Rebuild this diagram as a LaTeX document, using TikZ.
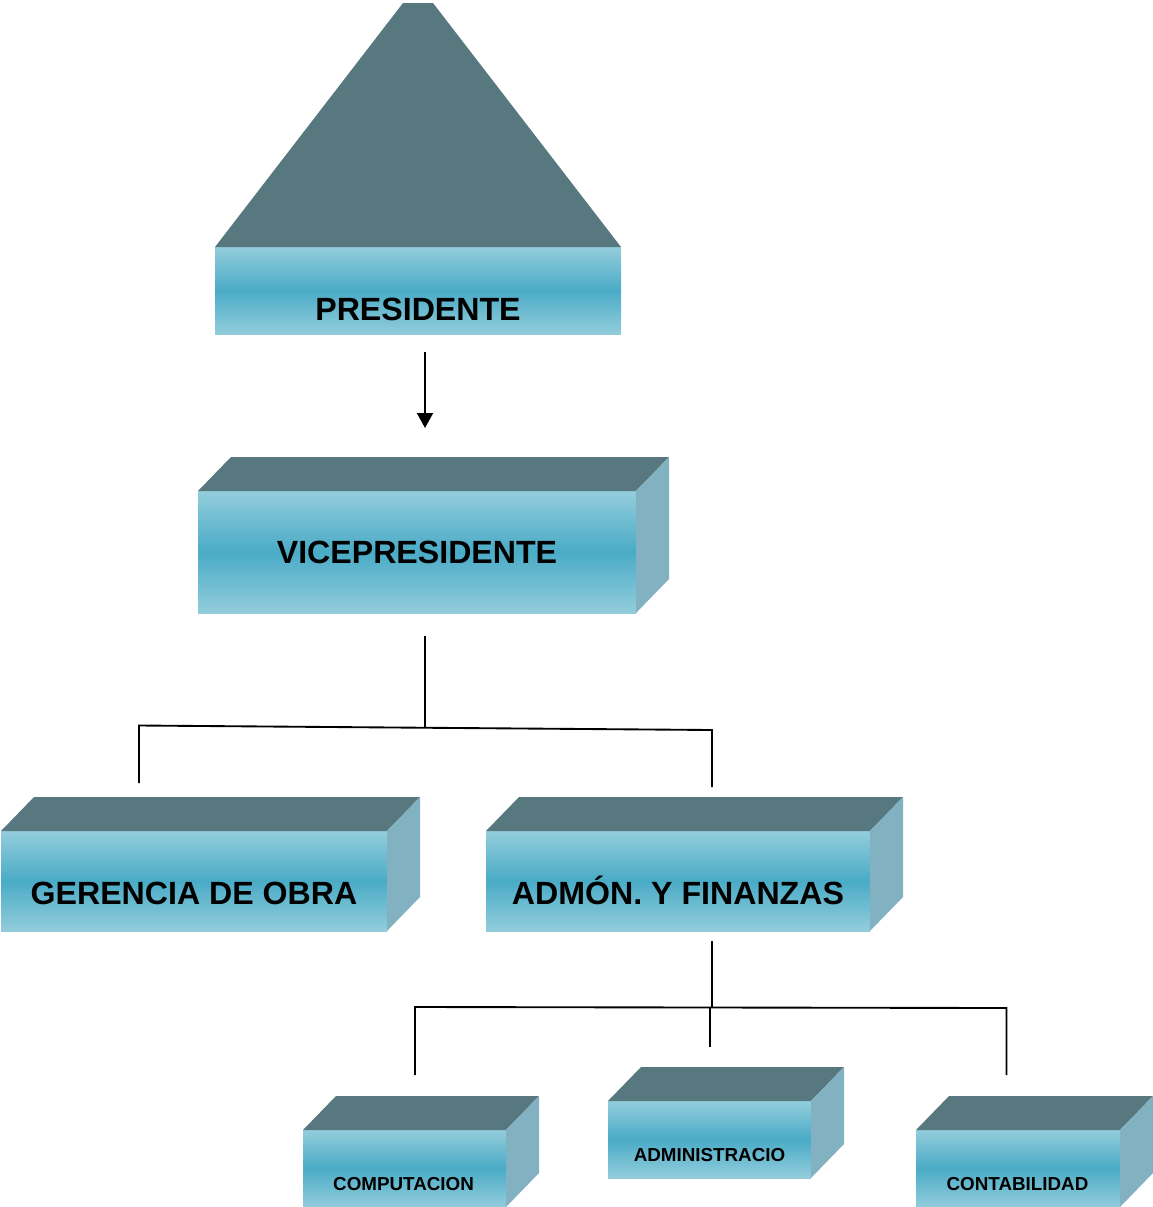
\documentclass[tikz,border=0pt]{standalone}
\usepackage{fontspec}
\setmainfont{Liberation Sans}
\usetikzlibrary{calc,arrows.meta}
\definecolor{topc}{RGB}{88,120,128}
\definecolor{sidec}{RGB}{130,178,194}
\definecolor{fl}{RGB}{147,205,220}
\definecolor{fd}{RGB}{74,171,198}
\tikzset{
 front/.style={rectangle, inner sep=0pt, outer sep=0pt, top color=fl, bottom color=fl, middle color=fd},
 topface/.style={fill=topc},
 sideface/.style={fill=sidec},
 bigtxt/.style={anchor=base, inner sep=0pt, font=\fontsize{24.1}{28}\selectfont\bfseries},
 smalltxt/.style={anchor=base, inner sep=0pt, font=\fontsize{14.1}{16}\selectfont\bfseries},
 link/.style={line width=1.4pt, draw=black},
 arr/.style={link, -{Triangle[length=11.25pt,width=12pt]}}
}
\newcommand\cubefaces[1]{%
 \fill[topface] (#1.north west) -- ++(33,-34) -- ($(#1.north east)+(33,-34)$) -- (#1.north east) -- cycle;
 \fill[sideface] (#1.north east) -- ++(33,-34) -- ($(#1.south east)+(33,-34)$) -- (#1.south east) -- cycle;}
\begin{document}
\begin{tikzpicture}[x=0.75pt,y=-0.75pt]
\useasboundingbox (0,0) rectangle (1153,1207);

% PRESIDENTE
\node[front, minimum width={406*0.75pt}, minimum height={87*0.75pt}] (pres) at (418,290.5) {};
\fill[topface] (pres.north west) -- (403,3) -- (433,3) -- (pres.north east) -- cycle;
\node[bigtxt] (presT) at ($(pres.center)+(0,29.5)$) {PRESIDENTE};

% VICEPRESIDENTE
\node[front, minimum width={438*0.75pt}, minimum height={122*0.75pt}] (vp) at (417,552) {};
\cubefaces{vp}
\node[bigtxt] (vpT) at ($(vp.center)+(0,11.3)$) {VICEPRESIDENTE};

% GERENCIA DE OBRA
\node[front, minimum width={386*0.75pt}, minimum height={100*0.75pt}] (ger) at (194,881) {};
\cubefaces{ger}
\node[bigtxt] (gerT) at ($(ger.center)+(0,23)$) {GERENCIA DE OBRA};

% ADMON Y FINANZAS
\node[front, minimum width={384*0.75pt}, minimum height={100*0.75pt}] (adm) at (678,881) {};
\cubefaces{adm}
\node[bigtxt] (admT) at ($(adm.center)+(0,23)$) {ADMÓN. Y FINANZAS};

% bottom row
\node[front, minimum width={203*0.75pt}, minimum height={77*0.75pt}] (comp) at (404.5,1168.5) {};
\cubefaces{comp}
\node[smalltxt] (compT) at ($(comp.center)+(-1,21.5)$) {COMPUTACION};

\node[front, minimum width={203*0.75pt}, minimum height={77*0.75pt}] (admi) at (709.5,1139.5) {};
\cubefaces{admi}
\node[smalltxt] (admiT) at ($(admi.center)+(0,21.5)$) {ADMINISTRACIO};

\node[front, minimum width={204*0.75pt}, minimum height={77*0.75pt}] (cont) at (1018,1168.5) {};
\cubefaces{cont}
\node[smalltxt] (contT) at ($(cont.center)+(-0.5,21.5)$) {CONTABILIDAD};

% connectors
\draw[arr] ($(pres.south)+(7,18)$) -- ($(vp.north)+(8,-63)$);

\draw[link] ($(vp.south)+(8,23)$) -- ($(vp.south)+(8,114.5)$);
\draw[link] ($(ger.north)+(-55,-48)$) -- ($(ger.north)+(-55,-105.5)$)
   -- ($(adm.north)+(34,-101)$) -- ($(adm.north)+(34,-44)$);

\draw[link] ($(adm.south)+(34,10)$) -- ($(adm.south)+(34,77)$);
\draw[link] ($(comp.north)+(10.5,-55)$) -- ($(comp.north)+(10.5,-123)$)
   -- ($(cont.north)+(-11.5,-122)$) -- ($(cont.north)+(-11.5,-55)$);
\draw[link] ($(admi.north)+(0.5,-93)$) -- ($(admi.north)+(0.5,-54)$);
\end{tikzpicture}
\end{document}
